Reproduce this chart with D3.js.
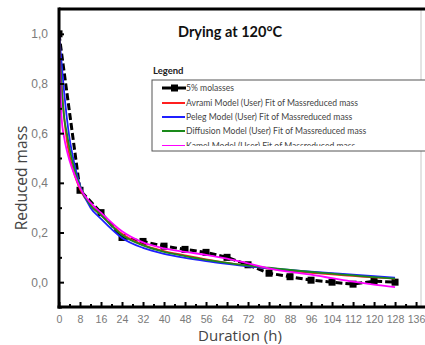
<!DOCTYPE html>
<html>
<head>
<meta charset="utf-8">
<script src="https://cdn.jsdelivr.net/npm/d3@7"></script>
<style>
  html, body { margin: 0; padding: 0; background: #fff; }
  svg { display: block; }
</style>
</head>
<body>
<svg id="chart" width="425" height="345"></svg>
<script>
// Drying kinetics of 5% molasses at 120 °C: measured reduced mass and four model fits.
const hours = [0, 8, 16, 24, 32, 40, 48, 56, 64, 72, 80, 88, 96, 104, 112, 120, 128];
const molasses = [1.0, 0.37, 0.28, 0.18, 0.164, 0.145, 0.132, 0.12, 0.10, 0.07, 0.036, 0.022, 0.008, 0.0, -0.008, 0.004, 0.0];

const fitHours = [0, 1, 2, 3, 4, 6, 8, 12, 16, 24, 32, 40, 48, 56, 64, 72, 80, 88, 96, 104, 112, 120, 128];
const avrami    = [1.0, 0.80, 0.66, 0.57, 0.51, 0.43, 0.375, 0.31, 0.27, 0.195, 0.15, 0.125, 0.108, 0.092, 0.078, 0.066, 0.055, 0.046, 0.038, 0.031, 0.025, 0.019, 0.014];
const peleg     = [1.0, 0.88, 0.76, 0.66, 0.58, 0.47, 0.39, 0.30, 0.255, 0.178, 0.138, 0.114, 0.098, 0.085, 0.074, 0.064, 0.056, 0.049, 0.042, 0.036, 0.030, 0.024, 0.018];
const diffusion = [1.0, 0.78, 0.66, 0.60, 0.54, 0.45, 0.385, 0.31, 0.27, 0.19, 0.148, 0.122, 0.105, 0.090, 0.078, 0.067, 0.058, 0.049, 0.041, 0.034, 0.027, 0.020, 0.014];
const kamel     = [1.0, 0.66, 0.58, 0.53, 0.49, 0.43, 0.38, 0.32, 0.28, 0.205, 0.16, 0.136, 0.122, 0.110, 0.095, 0.076, 0.056, 0.041, 0.030, 0.016, 0.002, -0.010, -0.020];

const seriesNames = [
  "5% molasses",
  "Avrami Model (User) Fit of Massreduced mass",
  "Peleg  Model (User) Fit of Massreduced mass",
  "Diffusion Model (User) Fit of Massreduced mass",
  "Kamel Model (User) Fit of Massreduced mass"
];
const seriesColors = ["#000000", "#ff1f1f", "#1f1fff", "#1a8a1a", "#ff00ff"];

const xTicks = [0, 8, 16, 24, 32, 40, 48, 56, 64, 72, 80, 88, 96, 104, 112, 120, 128, 136];
const xMinor = [4, 12, 20, 28, 36, 44, 52, 60, 68, 76, 84, 92, 100, 108, 116, 124, 132];
const yTicks = [0.0, 0.2, 0.4, 0.6, 0.8, 1.0];
const yMinor = [-0.1, 0.1, 0.3, 0.5, 0.7, 0.9];

const titleText = "Drying at 120°C";
const xTitle = "Duration (h)";
const yTitle = "Reduced mass";

const svg = d3.select("#chart");
const L = 59, R = 420, T = 9, B = 307;

const x = d3.scaleLinear().domain([0, 137.5]).range([L, R]);
const y = d3.scaleLinear().domain([-0.1, 1.1]).range([B, T]);

// plot frame: right side light, top heavy
svg.append("line").attr("x1", R + 1).attr("x2", R + 1).attr("y1", T).attr("y2", B)
  .attr("stroke", "#c8c8c8").attr("stroke-width", 1);
svg.append("line").attr("x1", L).attr("x2", 425).attr("y1", T).attr("y2", T)
  .attr("stroke", "#000").attr("stroke-width", 3);

svg.append("defs").append("clipPath").attr("id", "plotclip")
  .append("rect").attr("x", L).attr("y", T).attr("width", R - L).attr("height", B - T);

const plot = svg.append("g").attr("clip-path", "url(#plotclip)");

// measured data: thick dashed line with square markers
plot.append("path")
  .datum(hours.map((h, i) => [h, molasses[i]]))
  .attr("fill", "none").attr("stroke", "#000").attr("stroke-width", 3)
  .attr("stroke-dasharray", "7,3")
  .attr("d", d3.line().x(d => x(d[0])).y(d => y(d[1])));
plot.selectAll("rect.pt").data(hours.map((h, i) => [h, molasses[i]])).enter()
  .append("rect").attr("class", "pt")
  .attr("x", d => x(d[0]) - 3.5).attr("y", d => y(d[1]) - 3.5)
  .attr("width", 7).attr("height", 7).attr("fill", "#000");

// model fits
const fits = [avrami, peleg, diffusion, kamel];
const fitLine = d3.line().curve(d3.curveMonotoneX).x(d => x(d[0])).y(d => y(d[1]));
fits.forEach((vals, k) => {
  plot.append("path")
    .datum(fitHours.map((h, i) => [h, vals[i]]))
    .attr("fill", "none").attr("stroke", seriesColors[k + 1]).attr("stroke-width", 1.8)
    .attr("d", fitLine);
});

// axes with inward ticks
const fmt = d => d.toFixed(1).replace(".", ",");
const yAxis = svg.append("g").attr("transform", `translate(${L},0)`)
  .call(d3.axisLeft(y).tickValues(yTicks).tickSizeInner(-5).tickSizeOuter(0).tickPadding(11).tickFormat(fmt));
const yAxisMinor = svg.append("g").attr("transform", `translate(${L},0)`)
  .call(d3.axisLeft(y).tickValues(yMinor).tickSizeInner(-3).tickSizeOuter(0).tickFormat(""));
const xAxis = svg.append("g").attr("transform", `translate(0,${B})`)
  .call(d3.axisBottom(x).tickValues(xTicks).tickSizeInner(-5).tickSizeOuter(0).tickPadding(8).tickFormat(d3.format("d")));
const xAxisMinor = svg.append("g").attr("transform", `translate(0,${B})`)
  .call(d3.axisBottom(x).tickValues(xMinor).tickSizeInner(-3).tickSizeOuter(0).tickFormat(""));

[yAxis, yAxisMinor, xAxis, xAxisMinor].forEach(g => {
  g.select(".domain").remove();
  g.selectAll(".tick line").attr("stroke", "#000").attr("stroke-width", 2);
  g.selectAll(".tick text").attr("fill", "#7a7a7a")
    .style("font-family", "'Liberation Sans', Arial, sans-serif").style("font-size", "12px");
});
xAxis.selectAll(".tick text").style("font-size", "10.6px");

// heavy axis lines
svg.append("line").attr("x1", L).attr("x2", L).attr("y1", T - 1.5).attr("y2", B + 1.5)
  .attr("stroke", "#000").attr("stroke-width", 3);
svg.append("line").attr("x1", L - 1.5).attr("x2", 425).attr("y1", B).attr("y2", B)
  .attr("stroke", "#000").attr("stroke-width", 3);

// titles
svg.append("text").attr("x", 230).attr("y", 37).attr("text-anchor", "middle")
  .style("font-family", "Lato, sans-serif").style("font-weight", "bold").style("font-size", "14.5px")
  .attr("fill", "#111").text(titleText);
svg.append("text").attr("x", 240).attr("y", 341).attr("text-anchor", "middle")
  .style("font-family", "'Open Sans', sans-serif").style("font-size", "15px")
  .attr("fill", "#444").text(xTitle);
svg.append("text").attr("transform", "translate(27,178) rotate(-90)").attr("text-anchor", "middle")
  .style("font-family", "'Open Sans', sans-serif").style("font-size", "15.5px")
  .attr("fill", "#444").text(yTitle);

// legend
const lg = svg.append("g");
lg.append("text").attr("x", 153).attr("y", 74)
  .style("font-family", "Lato, sans-serif").style("font-weight", "bold").style("font-size", "9.5px")
  .attr("fill", "#222").text("Legend");
lg.append("defs").append("clipPath").attr("id", "legclip")
  .append("rect").attr("x", 152).attr("y", 80).attr("width", 273).attr("height", 66);
lg.append("rect").attr("x", 152).attr("y", 80).attr("width", 280).attr("height", 71)
  .attr("fill", "#fff").attr("stroke", "#555").attr("stroke-width", 1);
const rows = lg.append("g").attr("clip-path", "url(#legclip)");
const rowY = [88, 103, 117, 131, 146];
seriesNames.forEach((name, i) => {
  const yy = rowY[i];
  if (i === 0) {
    rows.append("line").attr("x1", 162).attr("x2", 186).attr("y1", yy).attr("y2", yy)
      .attr("stroke", "#000").attr("stroke-width", 3);
    rows.append("rect").attr("x", 171).attr("y", yy - 3.5).attr("width", 7).attr("height", 7).attr("fill", "#000");
  } else {
    rows.append("line").attr("x1", 162).attr("x2", 185).attr("y1", yy).attr("y2", yy)
      .attr("stroke", seriesColors[i]).attr("stroke-width", 2);
  }
  rows.append("text").attr("x", 186).attr("y", yy + 3)
    .style("font-family", "Lato, sans-serif").style("font-size", "8.6px")
    .attr("fill", "#444").text(name);
});
</script>
</body>
</html>
